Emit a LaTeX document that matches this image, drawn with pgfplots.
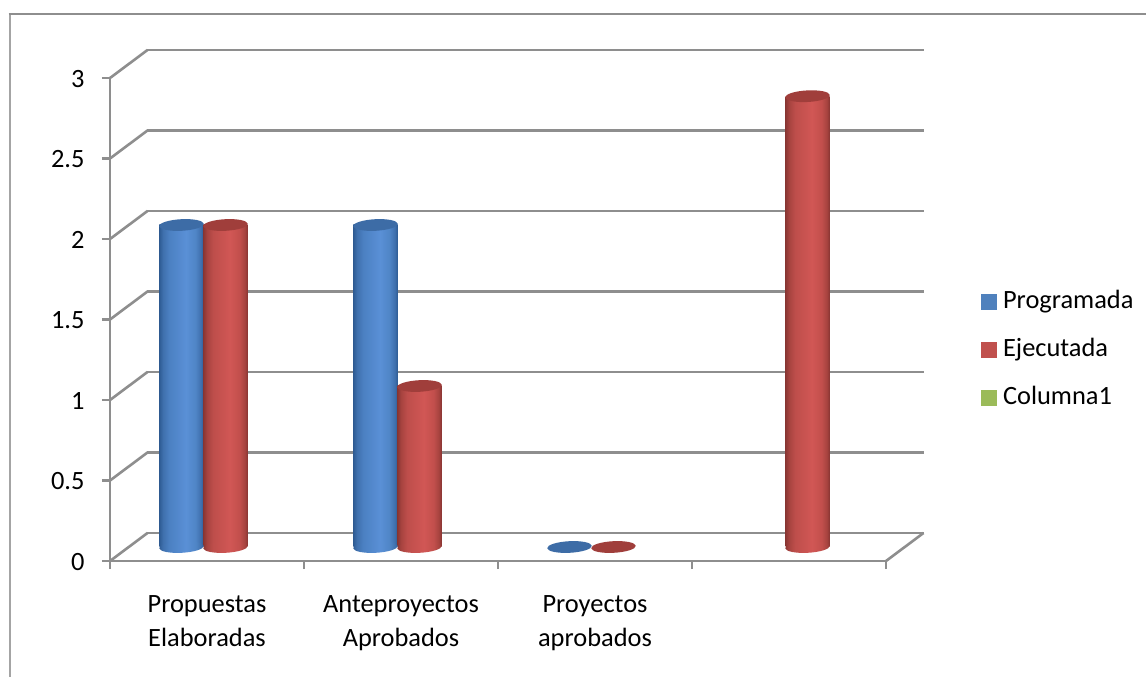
\documentclass[border=0pt]{standalone}
\usepackage{fontspec}
\setmainfont{Carlito}
\usepackage{pgfplots}
\pgfplotsset{compat=1.18}

\definecolor{gridc}{HTML}{8E8E8E}
\definecolor{framec}{HTML}{A4A4A4}
\definecolor{progc}{HTML}{4F81BD}
\definecolor{ejecc}{HTML}{C0504D}
\definecolor{colc}{HTML}{9BBB59}
\definecolor{topb}{HTML}{3D6CA6}
\definecolor{topr}{HTML}{A03E3B}

\definecolor{ba}{HTML}{2F5C94}
\definecolor{bb}{HTML}{3F70AD}
\definecolor{bc}{HTML}{4B80C2}
\definecolor{bd}{HTML}{5A90D6}
\definecolor{be}{HTML}{4F85C6}
\definecolor{ra}{HTML}{8A3633}
\definecolor{rb}{HTML}{A6433F}
\definecolor{rc}{HTML}{BE4E4B}
\definecolor{rd}{HTML}{D15755}
\definecolor{re}{HTML}{C24F4C}

% cylinder body, colour runs across the bar
\pgfdeclarehorizontalshading{cylblue}{100bp}{
  color(0bp)=(ba); color(25bp)=(ba); color(29bp)=(bb); color(36bp)=(bc);
  color(55bp)=(bd); color(66bp)=(be); color(72bp)=(bb); color(75bp)=(ba); color(100bp)=(ba)}
\pgfdeclarehorizontalshading{cylred}{100bp}{
  color(0bp)=(ra); color(25bp)=(ra); color(29bp)=(rb); color(36bp)=(rc);
  color(55bp)=(rd); color(66bp)=(re); color(72bp)=(rb); color(75bp)=(ra); color(100bp)=(ra)}

\def\cylellipse{\pgfpathellipse{\pgfpointorigin}{\pgfpointpolar{3}{22.3pt}}{\pgfpointpolar{93}{5.8pt}}}
\pgfdeclareplotmark{topblue}{\pgfsetfillcolor{topb}\cylellipse\pgfusepathqfill}
\pgfdeclareplotmark{topred}{\pgfsetfillcolor{topr}\cylellipse\pgfusepathqfill}
\pgfdeclareplotmark{botblue}{\cylellipse\pgfshadepath{cylblue}{0}\pgfusepath{discard}}
\pgfdeclareplotmark{botred}{\cylellipse\pgfshadepath{cylred}{0}\pgfusepath{discard}}

\pgfplotsset{
  cyl/.style={forget plot,xshift=#1,yshift=14pt},
  blue cyl/.style={cyl=-25.5pt},
  red cyl/.style={cyl=18.5pt},
  wall/.style={forget plot,gridc,line width=2.6pt,xshift=37.5pt,yshift=28pt},
  side/.style={forget plot,gridc,line width=2.6pt},
  body/.style={ybar,bar width=44pt,draw=none},
  swatch/.style={legend image code/.code={\fill[#1] (0pt,-6.5pt) rectangle (15pt,8.5pt);\path (21.5pt,0pt);}},
}

% one bar per plot: a ybar plot fills all its bars as one path, and the shading would span them
\newcommand{\bluecyl}[2]{%
  \addplot[blue cyl,only marks,mark=botblue] coordinates {(#1,0)};
  \addplot[blue cyl,body,shading=cylblue] coordinates {(#1,#2)};
  \addplot[blue cyl,only marks,mark=topblue] coordinates {(#1,#2)};
}
\newcommand{\redcyl}[2]{%
  \addplot[red cyl,only marks,mark=botred] coordinates {(#1,0)};
  \addplot[red cyl,body,shading=cylred] coordinates {(#1,#2)};
  \addplot[red cyl,only marks,mark=topred] coordinates {(#1,#2)};
}

\begin{document}
\begin{tikzpicture}
\useasboundingbox (-110pt,-116pt) rectangle (1036pt,561pt);
\fill[white] (-110pt,-116pt) rectangle (1036pt,561pt);
\draw[framec,line width=2.6pt] (-100pt,-116pt) -- (-100pt,547pt);
\draw[gridc,line width=1.5pt] (-101.3pt,547pt) -- (1036pt,547pt);
\begin{axis}[
    scale only axis,
    width=776pt,
    height=483pt,
    xmin=0, xmax=4,
    ymin=0, ymax=3,
    clip=false,
    axis lines*=left,
    axis line style={gridc,line width=2.6pt},
    tick style={gridc,line width=2.6pt},
    tick align=outside,
    major tick length=8pt,
    xtick={0,1,2,3,4},
    xticklabels={{Propuestas\\Elaboradas},{Anteproyectos\\Aprobados},{Proyectos\\aprobados},{},{}},
    xticklabel style={xshift=97pt,yshift=-23pt,align=center,font=\fontsize{26.4}{34.5}\selectfont,black},
    ytick={0,0.5,1,1.5,2,2.5,3},
    yticklabel style={xshift=-14pt,yshift=-1pt,font=\fontsize{26.4}{33}\selectfont,black,/pgf/number format/assume math mode=true},
    legend cell align=left,
    legend style={
      at={(1.1224,0.4348)},anchor=west,draw=none,fill=none,inner sep=0pt,
      row sep=24pt,font=\fontsize{26.4}{30}\selectfont,
      nodes={inner sep=0pt,text height=18pt,text depth=6pt},
    },
]
% back wall lines and the slanted side lines
\pgfplotsinvokeforeach{0,0.5,1,1.5,2,2.5,3}{
  \addplot[wall] coordinates {(0,#1) (4,#1)};
}
\addplot[side] coordinates {(0,0) (0.1933,0.1739)};
\addplot[side] coordinates {(0,0.5) (0.1933,0.6739)};
\addplot[side] coordinates {(0,1) (0.1933,1.1739)};
\addplot[side] coordinates {(0,1.5) (0.1933,1.6739)};
\addplot[side] coordinates {(0,2) (0.1933,2.1739)};
\addplot[side] coordinates {(0,2.5) (0.1933,2.6739)};
\addplot[side] coordinates {(0,3) (0.1933,3.1739)};
\addplot[side] coordinates {(4,0) (4.1933,0.1739)};

% Programada
\bluecyl{0.5}{2}
\bluecyl{1.5}{2}
\addplot[blue cyl,only marks,mark=topblue] coordinates {(2.5,0)};
% Ejecutada
\redcyl{0.5}{2}
\redcyl{1.5}{1}
\addplot[red cyl,only marks,mark=topred] coordinates {(2.5,0)};
\redcyl{3.5}{2.8}

\addlegendimage{swatch=progc}
\addlegendentry{Programada}
\addlegendimage{swatch=ejecc}
\addlegendentry{Ejecutada}
\addlegendimage{swatch=colc}
\addlegendentry{Columna1}
\end{axis}
\end{tikzpicture}
\end{document}
